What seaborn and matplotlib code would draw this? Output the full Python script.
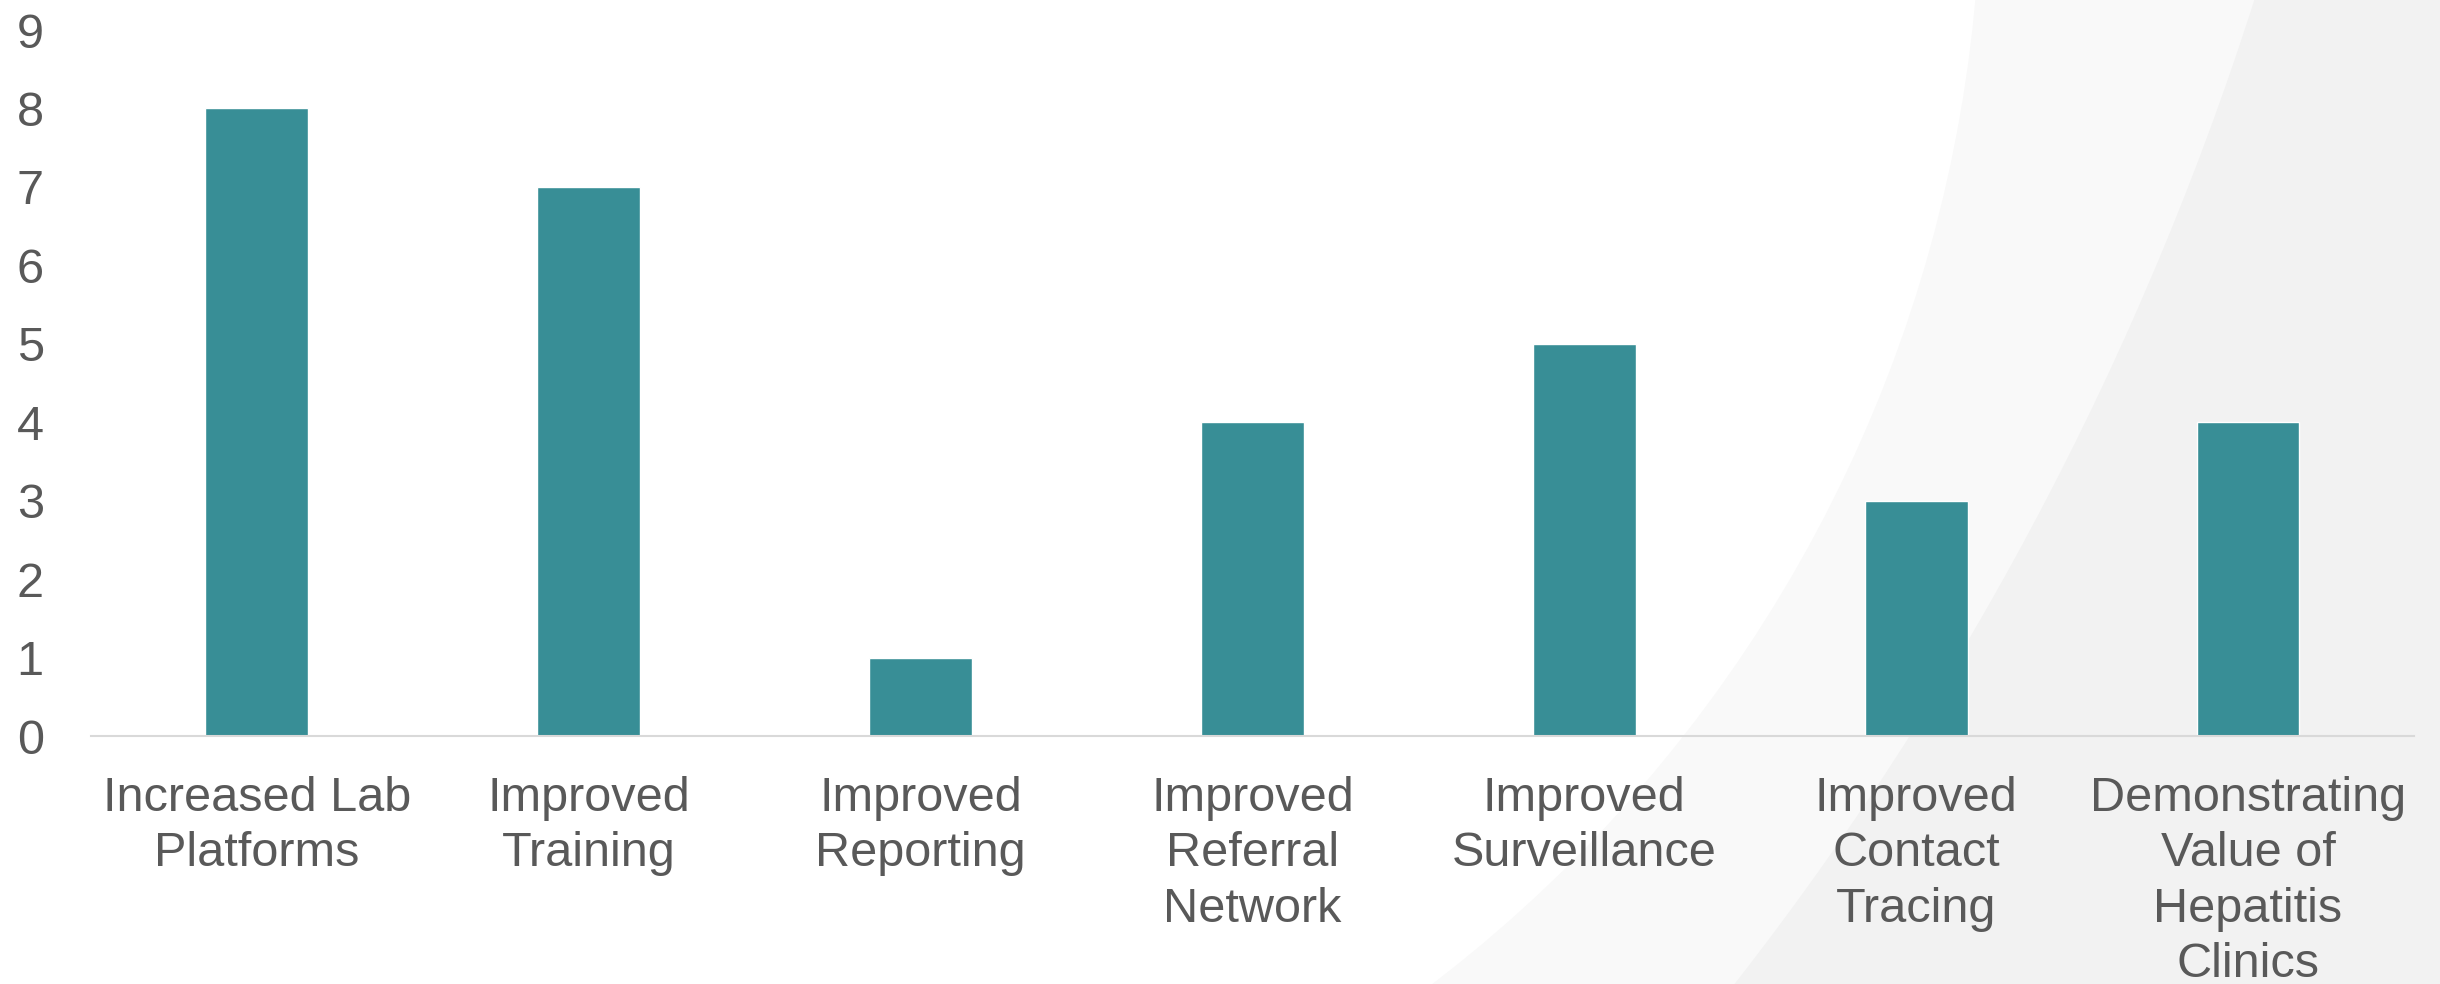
import matplotlib
matplotlib.use("Agg")
import matplotlib.pyplot as plt
import seaborn as sns
import pandas as pd
from matplotlib.patches import Circle

# chart data
categories = [
    "Increased Lab\nPlatforms",
    "Improved\nTraining",
    "Improved\nReporting",
    "Improved\nReferral\nNetwork",
    "Improved\nSurveillance",
    "Improved\nContact\nTracing",
    "Demonstrating\nValue of\nHepatitis\nClinics",
]
counts = [8, 7, 1, 4, 5, 3, 4]
y_ticks = list(range(0, 10))

BAR_COLOR = "#388E96"
TEXT_COLOR = "#595959"


def main():
    sns.set_style("white")
    plt.rcParams["font.family"] = ["Liberation Sans", "DejaVu Sans"]

    df = pd.DataFrame({"category": categories, "count": counts})

    fig = plt.figure(figsize=(24.4, 9.84), dpi=100)

    # faint decorative background arcs (slide template)
    bg = fig.add_axes([0, 0, 1, 1], zorder=0)
    bg.set_xlim(0, 2440)
    bg.set_ylim(984, 0)
    bg.axis("off")
    bg.add_patch(plt.Rectangle((0, 0), 2440, 984, color="#f2f2f2", lw=0))
    bg.add_patch(Circle((-756, -961), 3160, color="#f9f9f9", lw=0))
    bg.add_patch(Circle((584, -126), 1397, color="white", lw=0))

    ax = fig.add_axes([0.0373, 0.252, 0.952, 0.7175], zorder=1)
    ax.patch.set_alpha(0)

    sns.barplot(data=df, x="category", y="count", color=BAR_COLOR,
                saturation=1, width=0.31, ax=ax)

    ax.set_ylim(0, 9)
    ax.set_xlim(-0.5, len(categories) - 0.5)
    ax.set_yticks(y_ticks)
    ax.set_xlabel("")
    ax.set_ylabel("")

    for s in ["top", "right", "left"]:
        ax.spines[s].set_visible(False)
    ax.spines["bottom"].set_color("#d9d9d9")
    ax.spines["bottom"].set_linewidth(1.5)

    ax.tick_params(axis="y", length=0, pad=34, labelsize=35, labelcolor=TEXT_COLOR)
    ax.tick_params(axis="x", length=0, pad=29, labelsize=35, labelcolor=TEXT_COLOR)
    for lbl in ax.get_xticklabels():
        lbl.set_linespacing(1.29)

    fig.savefig("out.png", dpi=100)
    plt.close(fig)


if __name__ == "__main__":
    main()
